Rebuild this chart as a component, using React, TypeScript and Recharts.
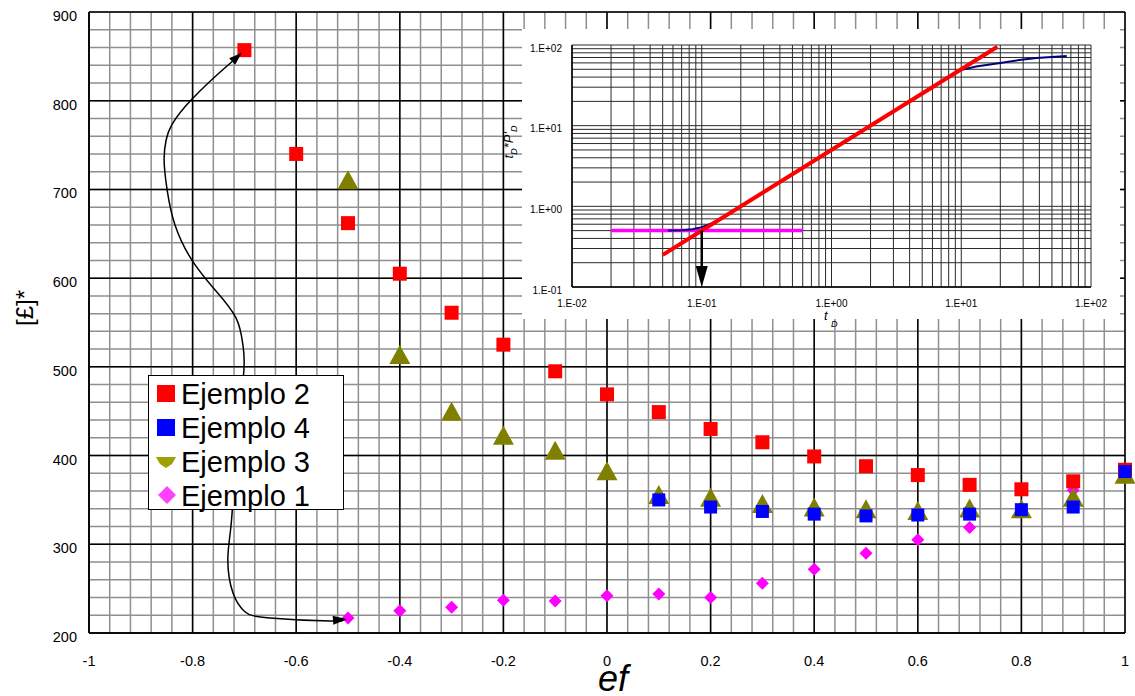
import React from "react";
import {
  ScatterChart,
  Scatter,
  ComposedChart,
  Line,
  XAxis,
  YAxis,
  CartesianGrid,
  ReferenceLine,
  Label,
} from "recharts";

const FONT = "Arial, 'Liberation Sans', sans-serif";

// ---- main chart data (ef vs [£]*) ----
const xLabels = [-1, -0.8, -0.6, -0.4, -0.2, 0, 0.2, 0.4, 0.6, 0.8, 1];
const yLabels = [200, 300, 400, 500, 600, 700, 800, 900];
const xMinorStep = 0.04;
const yMinorStep = 20;

const ej2X = [-0.7, -0.6, -0.5, -0.4, -0.3, -0.2, -0.1, 0, 0.1, 0.2, 0.3, 0.4, 0.5, 0.6, 0.7, 0.8, 0.9, 1];
const ej2Y = [857, 740, 662, 605, 561, 525, 495, 469, 449, 430, 415, 399, 388, 378, 367, 362, 371, 384];

const ej3X = [-0.5, -0.4, -0.3, -0.2, -0.1, 0, 0.1, 0.2, 0.3, 0.4, 0.5, 0.6, 0.7, 0.8, 0.9, 1];
const ej3Y = [711, 514, 450, 423, 406, 383, 356, 353, 346, 342, 340, 338, 341, 340, 353, 379];

const ej4X = [0.1, 0.2, 0.3, 0.4, 0.5, 0.6, 0.7, 0.8, 0.9, 1];
const ej4Y = [350, 342, 337, 334, 332, 333, 334, 339, 342, 382];

const ej1X = [-0.5, -0.4, -0.3, -0.2, -0.1, 0, 0.1, 0.2, 0.3, 0.4, 0.5, 0.6, 0.7, 0.8, 0.9, 1];
const ej1Y = [217, 225, 229, 237, 236, 242, 244, 240, 256, 272, 290, 305, 319, 338, 361, 378];

// hand-drawn arrow curve (from the -0.7 point down to the -0.5 point)
const curveX = [-0.712, -0.728, -0.801, -0.84, -0.851, -0.855, -0.849, -0.834, -0.801, -0.757, -0.716, -0.703, -0.701, -0.712, -0.72, -0.726, -0.732, -0.722, -0.699, -0.651, -0.535, -0.51];
const curveY = [848, 842, 802, 773, 756, 733, 699, 660, 620, 587, 555, 525, 496, 430, 370, 320, 282, 245, 224, 217, 213.5, 215];
const arrowTopTip = [{ x: -0.705, y: 854 }];
const arrowBottomTip = [{ x: -0.502, y: 215.5 }];

const legendNames = ["Ejemplo 2", "Ejemplo 4", "Ejemplo 3", "Ejemplo 1"];

// ---- inset data (log-log, tD*P'D vs tD) ----
const insetDecadesX = [0.01, 0.1, 1, 10, 100];
const insetDecadesY = [0.1, 1, 10, 100];
const decadeLabels: Record<string, string> = {
  "0.01": "1.E-02",
  "0.1": "1.E-01",
  "1": "1.E+00",
  "10": "1.E+01",
  "100": "1.E+02",
};
const logSteps = [1, 2, 3, 4, 5, 6, 7, 8, 9];

const magentaX = [0.02, 0.6];
const magentaY = [0.5, 0.5];
const redX = [0.05, 19];
const redY = [0.25, 95];
const navyX = [0.055, 0.07, 0.085, 0.1, 0.12, 0.15, 0.2, 0.5, 1, 3, 8, 10, 13, 20, 28, 38, 50, 65];
const navyY = [0.5, 0.505, 0.52, 0.55, 0.62, 0.76, 1.0, 2.5, 5, 15, 40, 49, 54, 60, 65, 69, 71, 73];
const arrowX = [0.1, 0.1];
const arrowY = [0.5, 0.13];
const arrowHead = [{ x: 0.1, y: 0.1 }];

const zip = (xs: number[], ys: number[]) => xs.map((x, i) => ({ x, y: ys[i] }));
const round = (v: number) => Math.round(v * 1000) / 1000;

const minorTicks = (from: number, to: number, step: number) => {
  const out: number[] = [];
  const n = Math.round((to - from) / step);
  for (let i = 0; i <= n; i++) out.push(round(from + i * step));
  return out;
};
const logTicks = (decades: number[]) => {
  const out: number[] = [];
  decades.slice(0, -1).forEach((d) => logSteps.forEach((m) => out.push(+(d * m).toPrecision(6))));
  out.push(decades[decades.length - 1]);
  return out;
};

const xGridTicks = minorTicks(-1, 1, xMinorStep);
const yGridTicks = minorTicks(200, 900, yMinorStep);

const ej1 = zip(ej1X, ej1Y);
const ej2 = zip(ej2X, ej2Y);
const ej3 = zip(ej3X, ej3Y);
const ej4 = zip(ej4X, ej4Y);
const curve = zip(curveX, curveY);

// ---- marker shapes ----
const squareShape = (s: number, fill: string) => (p: any) => (
  <rect x={p.cx - s / 2} y={p.cy - s / 2} width={s} height={s} fill={fill} />
);
const triangleShape = (w: number, h: number, fill: string) => (p: any) => (
  <polygon
    points={`${p.cx},${p.cy - h / 2} ${p.cx + w / 2},${p.cy + h / 2} ${p.cx - w / 2},${p.cy + h / 2}`}
    fill={fill}
  />
);
const diamondShape = (s: number, fill: string) => (p: any) => (
  <polygon
    points={`${p.cx},${p.cy - s / 2} ${p.cx + s / 2},${p.cy} ${p.cx},${p.cy + s / 2} ${p.cx - s / 2},${p.cy}`}
    fill={fill}
  />
);
const arrowShape = (angle: number, len: number, half: number) => (p: any) => (
  <polygon
    points={`0,0 ${-len},${-half} ${-len},${half}`}
    transform={`translate(${p.cx},${p.cy}) rotate(${angle})`}
    fill="#000"
  />
);
const noShape = () => <g />;

// ---- ticks ----
const MainXTick = (props: any) => {
  const { x, y, payload } = props;
  const v = round(payload.value);
  if (!xLabels.some((l) => Math.abs(l - v) < 1e-6)) return <g />;
  return (
    <text x={x} y={y + 31} textAnchor="middle" fontSize={14.5} fontFamily={FONT} fill="#000">
      {String(v)}
    </text>
  );
};
const MainYTick = (props: any) => {
  const { x, y, payload } = props;
  const v = round(payload.value);
  if (!yLabels.includes(v)) return <g />;
  return (
    <text x={x - 10} y={y + 9} textAnchor="end" fontSize={14.5} fontFamily={FONT} fill="#000">
      {String(v)}
    </text>
  );
};
const InsetXTick = (props: any) => {
  const { x, y, payload } = props;
  const lbl = decadeLabels[String(payload.value)];
  if (!lbl) return <g />;
  return (
    <text x={x} y={y + 18} textAnchor="middle" fontSize={10} fontFamily={FONT} fill="#000">
      {lbl}
    </text>
  );
};
const InsetYTick = (props: any) => {
  const { x, y, payload } = props;
  const lbl = decadeLabels[String(payload.value)];
  if (!lbl) return <g />;
  return (
    <text x={x - 8} y={y + 6.5} textAnchor="end" fontSize={10} fontFamily={FONT} fill="#000">
      {lbl}
    </text>
  );
};

const EfLabel = (props: any) => {
  const { x, y, width } = props.viewBox;
  return (
    <text x={x + width / 2 + 6} y={y + 58} textAnchor="middle" fontSize={36} fontStyle="italic" fontFamily={FONT} fill="#000">
      ef
    </text>
  );
};
const YLabel = () => (
  <text transform="translate(33,308) rotate(-90)" textAnchor="middle" fontSize={24} fontFamily={FONT} fill="#000">
    [£]*
  </text>
);

function LegendMarker({ i }: { i: number }) {
  return (
    <svg width={22} height={22} style={{ flex: "none" }}>
      {i === 0 && <rect x={1} y={2} width={18} height={17} fill="#ff0000" />}
      {i === 1 && <rect x={1} y={2} width={18} height={17} fill="#0000ff" />}
      {i === 2 && <polygon points="0,6 20,6 16,13 10,17 4,13" fill="#a0a000" />}
      {i === 3 && <polygon points="11,1 20,10 11,19 2,10" fill="#ff40ff" />}
    </svg>
  );
}

export default function App() {
  return (
    <div style={{ position: "absolute", left: 0, top: 0, width: 1135, height: 696, background: "#fff", overflow: "hidden" }}>
      <div style={{ position: "absolute", left: 0, top: 0 }}>
        <ScatterChart width={1135} height={696} margin={{ top: 12, right: 10, bottom: 33, left: 0 }}>
          <CartesianGrid stroke="#8f8f8f" strokeWidth={1.5} />
          {xLabels.map((v) => (
            <ReferenceLine key={"vx" + v} x={v} stroke="#000" strokeWidth={1.5} />
          ))}
          {yLabels.map((v) => (
            <ReferenceLine key={"hy" + v} y={v} stroke="#000" strokeWidth={1.5} />
          ))}
          <XAxis
            type="number"
            dataKey="x"
            domain={[-1, 1]}
            ticks={xGridTicks}
            interval={0}
            tick={MainXTick}
            tickSize={0}
            tickLine={false}
            axisLine={{ stroke: "#000", strokeWidth: 1.5 }}
            height={30}
          >
            <Label content={EfLabel} />
          </XAxis>
          <YAxis
            type="number"
            dataKey="y"
            domain={[200, 900]}
            ticks={yGridTicks}
            interval={0}
            tick={MainYTick}
            tickSize={0}
            tickLine={false}
            axisLine={{ stroke: "#000", strokeWidth: 1.5 }}
            width={89}
          >
            <Label content={YLabel} />
          </YAxis>
          <Scatter name="Ejemplo 1" data={ej1} shape={diamondShape(13, "#ff00ff")} isAnimationActive={false} />
          <Scatter name="Ejemplo 3" data={ej3} shape={triangleShape(21, 19, "#808000")} isAnimationActive={false} />
          <Scatter name="Ejemplo 2" data={ej2} shape={squareShape(14, "#ff0000")} isAnimationActive={false} />
          <Scatter name="Ejemplo 4" data={ej4} shape={squareShape(13, "#0000ff")} isAnimationActive={false} />
          <Scatter
            data={curve}
            line={{ stroke: "#000", strokeWidth: 1.5 }}
            lineJointType="natural"
            shape={noShape}
            isAnimationActive={false}
          />
          <Scatter data={arrowTopTip} shape={arrowShape(-42, 13, 4.5)} isAnimationActive={false} />
          <Scatter data={arrowBottomTip} shape={arrowShape(-4, 14, 4.5)} isAnimationActive={false} />
        </ScatterChart>
      </div>

      {/* legend */}
      <div
        style={{
          position: "absolute",
          left: 148,
          top: 375,
          width: 196,
          height: 135,
          border: "1px solid #000",
          boxSizing: "border-box",
          background: "#fff",
          paddingTop: 1,
        }}
      >
        {legendNames.map((n, i) => (
          <div key={n} style={{ display: "flex", alignItems: "center", height: 34, paddingLeft: 7 }}>
            <LegendMarker i={i} />
            <span style={{ fontFamily: FONT, fontSize: 29, lineHeight: "34px", marginLeft: 3, color: "#000" }}>{n}</span>
          </div>
        ))}
      </div>

      {/* inset log-log chart */}
      <div style={{ position: "absolute", left: 522, top: 29, width: 598, height: 290, background: "#fff" }}>
        <ComposedChart width={598} height={290} margin={{ top: 16, right: 29, bottom: 12, left: 0 }}>
          <CartesianGrid stroke="#2a2a2a" strokeWidth={1} />
          <XAxis
            type="number"
            dataKey="x"
            scale="log"
            domain={[0.01, 100]}
            ticks={logTicks(insetDecadesX)}
            interval={0}
            tick={InsetXTick}
            tickSize={0}
            tickLine={false}
            axisLine={{ stroke: "#000", strokeWidth: 1.5 }}
            height={20}
          />
          <YAxis
            type="number"
            scale="log"
            domain={[0.1, 100]}
            ticks={logTicks(insetDecadesY)}
            interval={0}
            tick={InsetYTick}
            tickSize={0}
            tickLine={false}
            axisLine={{ stroke: "#000", strokeWidth: 1.5 }}
            width={50}
          />
          <Line data={zip(magentaX, magentaY)} dataKey="y" stroke="#ff00ff" strokeWidth={3.5} dot={false} isAnimationActive={false} />
          <Line data={zip(navyX, navyY)} dataKey="y" stroke="#000080" strokeWidth={2} dot={false} isAnimationActive={false} />
          <Line data={zip(redX, redY)} dataKey="y" stroke="#ff0000" strokeWidth={4} dot={false} isAnimationActive={false} />
          <Line data={zip(arrowX, arrowY)} dataKey="y" stroke="#000" strokeWidth={2.5} dot={false} isAnimationActive={false} />
          <Scatter data={arrowHead} dataKey="y" shape={arrowShape(90, 21, 6)} isAnimationActive={false} />
        </ComposedChart>
      </div>

      {/* inset axis titles */}
      <svg width={1135} height={696} style={{ position: "absolute", left: 0, top: 0, pointerEvents: "none" }}>
        <text transform="translate(513,142) rotate(-90)" textAnchor="middle" fontSize={13} fontStyle="italic" fontFamily={FONT} fill="#000">
          t
          <tspan fontSize={9} dy={4}>D</tspan>
          <tspan dy={-4}>*P'</tspan>
          <tspan fontSize={9} dy={4}>D</tspan>
        </text>
        <text x={824} y={320} fontSize={13} fontStyle="italic" fontFamily={FONT} fill="#000">
          t
        </text>
        <text x={831} y={327} fontSize={9} fontStyle="italic" fontFamily={FONT} fill="#000">
          D
        </text>
      </svg>
    </div>
  );
}
